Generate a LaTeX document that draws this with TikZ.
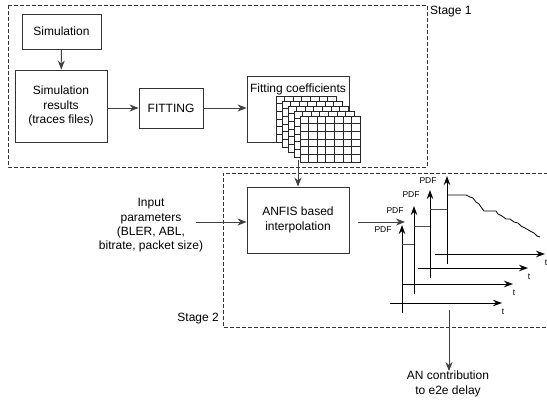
\documentclass[tikz,border=0pt]{standalone}
\usepackage{fontspec}
\setmainfont{Liberation Sans}
\usepackage{tikz}
\usetikzlibrary{arrows.meta, positioning, calc}

\tikzset{
  block/.style={draw=black!80, line width=0.9pt, fill=white, align=center,
    inner sep=0pt, font=\fontsize{12}{14.3}\selectfont},
  label/.style={align=center, inner sep=0pt, font=\fontsize{12}{14.3}\selectfont},
  small/.style={inner sep=0pt, font=\fontsize{8.5}{10}\selectfont},
  flow/.style={draw=black!75, line width=0.9pt, -{Stealth[length=9pt, width=7pt]}},
  axis/.style={draw=black, line width=1pt, -{Stealth[length=9pt, width=6.5pt]}},
  stage/.style={draw=black!80, line width=0.8pt, dash pattern=on 4pt off 2pt}
}

\begin{document}
\begin{tikzpicture}[x=1pt, y=-1pt]
  \useasboundingbox (0,0) rectangle (547,400);

  % Stage frames
  \draw[stage] (8,5) rectangle (427,167);
  \node[label, anchor=west] (st1) at (430,12) {Stage 1};
  \draw[stage] (548,173) -- (223,173) -- (223,327) -- (548,327);
  \node[label, anchor=east] (st2) at (219,319) {Stage 2};

  % Stage 1 blocks
  \node[block, minimum width=79pt, minimum height=35pt] (sim) at (61.5,31.5) {Simulation};
  \node[block, minimum width=92pt, minimum height=72pt] (res) at (61,106)
    {Simulation\\results\\(traces files)};
  \node[block, minimum width=64pt, minimum height=40pt] (fit) at (171,108) {FITTING};
  \node[block, minimum width=102pt, minimum height=66pt] (coef) at (298,109) {};
  \node[label] (coeftxt) at (298,89) {Fitting coefficients};

  % Stacked coefficient tables (7x6 cells each)
  \def\gw{60}
  \def\gh{46}
  \foreach \k in {0,...,4} {
    \pgfmathsetmacro{\gx}{276+6*\k}
    \pgfmathsetmacro{\gy}{96+5*\k}
    \draw[black!85, line width=0.7pt, fill=white] (\gx,\gy) rectangle ++(\gw,\gh);
    \foreach \c in {1,...,6}
      \draw[black!85, line width=0.7pt] (\gx+\c*\gw/7,\gy) -- ++(0,\gh);
    \foreach \r in {1,...,5}
      \draw[black!85, line width=0.7pt] (\gx,\gy+\r*\gh/6) -- ++(\gw,0);
  }
  \coordinate (gbot) at (298,160);

  \draw[flow] (sim) -- (res);
  \draw[flow] (res.east |- fit.west) -- (fit);
  \draw[flow] (fit) -- (fit -| coef.west);

  % Stage 2
  \node[block, minimum width=102pt, minimum height=66pt] (anfis) at (298,220)
    {ANFIS based\\interpolation};
  \node[label] (inp) at (151,225.5)
    {Input\\parameters\\(BLER, ABL,\\bitrate, packet size)};
  \coordinate (inpend) at (196,222);
  \draw[flow] (inpend) -- (inpend -| anfis.west);
  \draw[flow] (gbot) -- (anfis.north);

  \coordinate (pdfout) at (358,222);
  \coordinate (pdfin) at (405,222);
  \draw[flow] (pdfout) -- (pdfin);

  % PDF plots, back ones last
  \foreach \xv/\yb/\xr in {402/313/502, 414/294/513, 430/278/528, 447/264/545} {
    \draw[axis] (\xv,\yb) -- (\xv,\yb-88);
    \draw[axis] (\xv-12,\yb-10) -- (\xr,\yb-10);
    \node[small] at (\xr+1,\yb-1) {t};
    \node[small] at (\xv-19,\yb-83) {PDF};
  }
  % steps between plots
  \draw[black!70, line width=0.9pt] (402,244) -- (414,244);
  \draw[black!70, line width=0.9pt] (414,226) -- (430,226);
  \draw[black!70, line width=0.9pt] (430,209) -- (447,209);
  \draw[black, line width=0.8pt] (447,195) -- (466,195) -- (470,197) -- (473,198)
    -- (476,202) -- (479,204) -- (481,207) -- (484,211) -- (496,211) -- (498,214)
    -- (502,216) -- (506,219) -- (510,219) -- (514,222) -- (518,223) -- (521,226)
    -- (525,228) -- (530,231) -- (534,233) -- (537,236) -- (540,237);

  % Output
  \coordinate (outtop) at (449,310);
  \node[label] (out) at (448,384) {AN contribution\\to e2e delay};
  \draw[flow] (outtop) -- (outtop |- out.north);
\end{tikzpicture}
\end{document}
